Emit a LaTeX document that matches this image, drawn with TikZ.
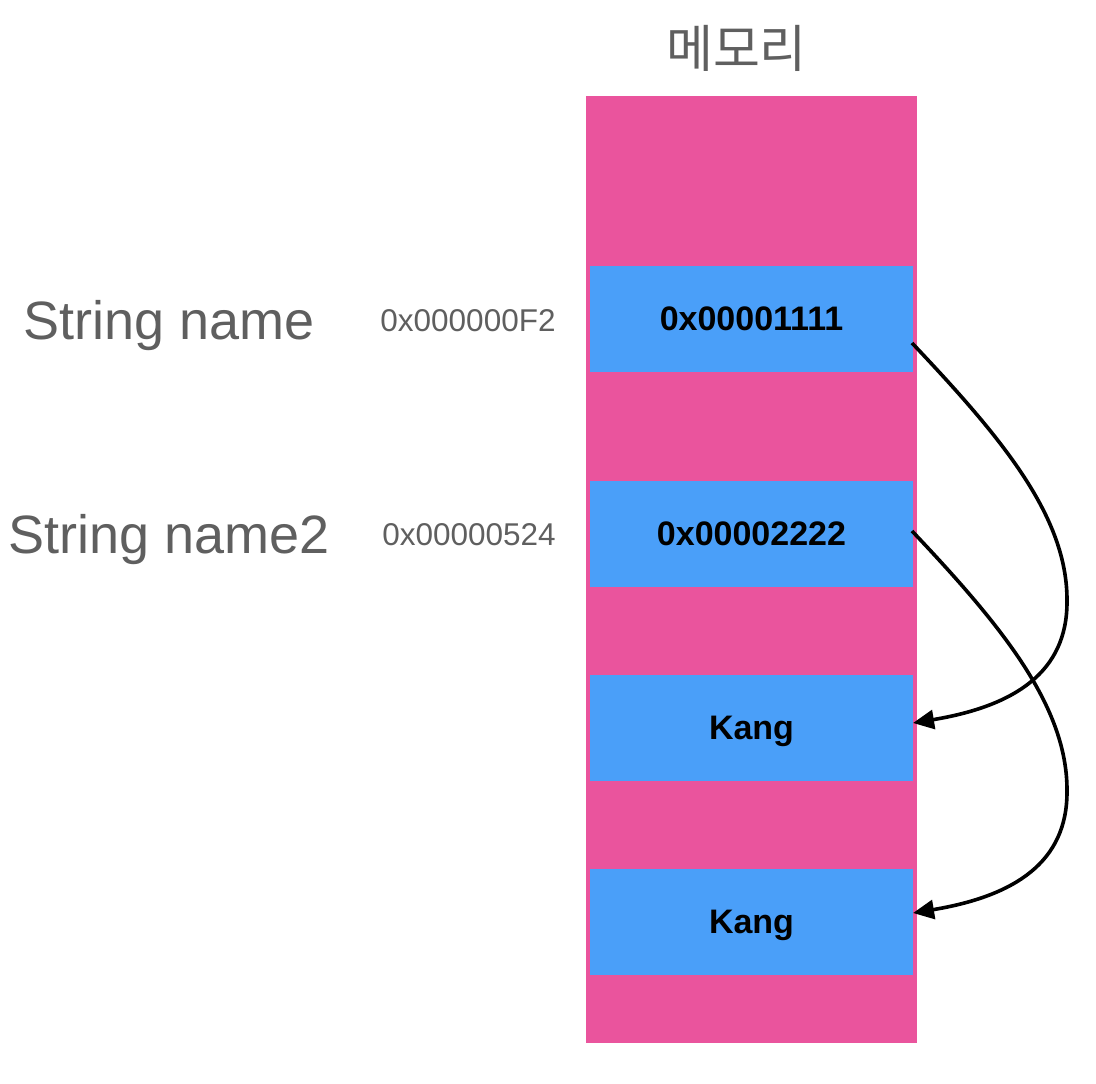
\documentclass[tikz,border=0pt]{standalone}
\usepackage{fontspec}
\setmainfont{Liberation Sans}
\newfontfamily\krfont{Noto Sans CJK KR}
\usetikzlibrary{arrows.meta}
\definecolor{mempink}{HTML}{EA549D}
\definecolor{cellblue}{HTML}{4A9FF9}
\definecolor{txtgrey}{HTML}{5F5F5F}
\begin{document}
\begin{tikzpicture}[x=1pt,y=-1pt,
  cell/.style={fill=cellblue,draw=none,inner sep=0pt,minimum width=323pt,minimum height=106pt,
    text height=24pt,text depth=0pt,font=\fontsize{34}{38}\selectfont\bfseries,text=black},
  varlbl/.style={inner sep=0pt,anchor=base,text=txtgrey,font=\fontsize{54}{60}\selectfont},
  addrlbl/.style={inner sep=0pt,anchor=base,text=txtgrey,font=\fontsize{31.5}{36}\selectfont},
  ptr/.style={line width=3.6pt,-{Triangle[length=21pt,width=19pt]}}]
\useasboundingbox (0,0) rectangle (1096,1084);
\node[fill=mempink,inner sep=0pt,minimum width=331pt,minimum height=947pt] (mem) at (751.5,569.5) {};
\node[inner sep=0pt,text=txtgrey,font=\krfont\fontsize{51}{56}\selectfont] (title) at (736.5,48) {메모리};
\node[cell] (b1) at (751.5,318.5) {0x00001111};
\node[cell] (b2) at (751.5,533.5) {0x00002222};
\node[cell] (b3) at (751.5,727.5) {Kang};
\node[cell] (b4) at (751.5,921.5) {Kang};
\node[varlbl] (v1) at (169,339) {String name};
\node[varlbl] (v2) at (169,553) {String name2};
\node[addrlbl] (a1) at (468,331) {0x000000F2};
\node[addrlbl] (a2) at (469,545) {0x00000524};
\coordinate (s1) at (912,343);
\coordinate (m1) at (1067,602);
\coordinate (e1) at (913,723);
\coordinate (s2) at (912,531);
\coordinate (m2) at (1067,792);
\coordinate (e2) at (913,913);
\draw[ptr] (s1) .. controls (1002,438) and (1068,517) .. (m1)
               .. controls (1067,672) and (1015,706) .. (e1);
\draw[ptr] (s2) .. controls (1002,626) and (1068,707) .. (m2)
               .. controls (1067,862) and (1015,896) .. (e2);
\end{tikzpicture}
\end{document}
